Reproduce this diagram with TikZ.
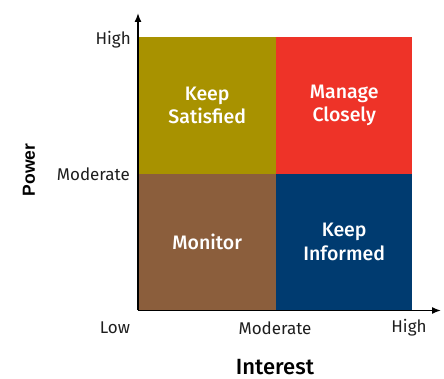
\documentclass[tikz,border=0pt]{standalone}
\usepackage{fontspec}
\setmainfont{Fira Sans}
\newfontfamily\medfont{Fira Sans Medium}
\newfontfamily\arialfont{Liberation Sans}
\usetikzlibrary{arrows.meta}
\definecolor{qolive}{RGB}{168,146,0}
\definecolor{qred}{RGB}{238,51,40}
\definecolor{qbrown}{RGB}{139,94,60}
\definecolor{qblue}{RGB}{0,59,112}
\definecolor{txt}{RGB}{30,30,30}
\tikzset{
  quad/.style={draw=none, inner sep=0pt, anchor=south west},
  qlabel/.style={text=white, font=\medfont\fontsize{19.5}{23.5}\selectfont, align=center},
  tick/.style={text=txt, font=\fontsize{17}{20}\selectfont, inner sep=0pt},
  axistitle/.style={text=black, font=\medfont\fontsize{22}{24}\selectfont, inner sep=0pt},
  axis/.style={line width=1.4pt, -{Latex[length=9pt,width=7pt]}}
}
\begin{document}
\begin{tikzpicture}[x=1pt,y=1pt]
\useasboundingbox (0,0) rectangle (444,379);
% quadrants
\node[quad, fill=qbrown, minimum width=138pt, minimum height=136pt] (q1) at (138,69) {};
\node[quad, fill=qblue, minimum width=136pt, minimum height=136pt] (q2) at (276,69) {};
\node[quad, fill=qolive, minimum width=138pt, minimum height=137pt] (q3) at (138,205) {};
\node[quad, fill=qred, minimum width=136pt, minimum height=137pt] (q4) at (276,205) {};
\node[qlabel] (l1) at (q1.center) {Monitor};
\node[qlabel] (l2) at (q2.center) {Keep\\Informed};
\node[qlabel] (l3) at (q3.center) {Keep\\Satisfied};
\node[qlabel] (l4) at (q4.center) {Manage\\Closely};
% axes
\coordinate (o) at (138,68.5);
\coordinate (ytop) at (138,366);
\coordinate (xend) at (441,68.5);
\draw[axis] (o) -- (ytop);
\draw[axis] (o) -- (xend);
% ticks
\node[tick, anchor=east] (yh) at (131,339) {High};
\node[tick, anchor=east] (ym) at (130,205) {Moderate};
\node[tick] (xl) at (115,51) {Low};
\node[tick] (xm) at (275,51) {Moderate};
\node[tick] (xh) at (409,51) {High};
% titles
\node[axistitle, anchor=base] (xt) at (275,4) {Interest};
\node[axistitle, font=\arialfont\bfseries\fontsize{17.5}{20}\selectfont, rotate=90] (yt) at (29,209) {Power};
\end{tikzpicture}
\end{document}
